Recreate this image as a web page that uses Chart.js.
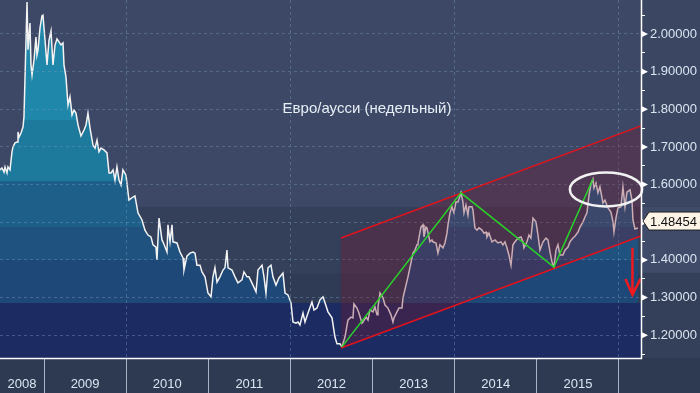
<!DOCTYPE html>
<html lang="ru">
<head>
<meta charset="UTF-8">
<title>Евро/аусси (недельный)</title>
<script src="https://cdn.jsdelivr.net/npm/chart.js"></script>
<style>
  html, body { margin: 0; padding: 0; background: #2e3a52; }
</style>
</head>
<body>
<canvas id="chart" width="700" height="393"></canvas>
<script>
// weekly closes, x = decimal year
const weeks = [
  2008.464, 2008.488, 2008.513, 2008.525, 2008.549, 2008.561, 2008.586, 2008.610, 2008.622, 2008.647, 2008.671, 2008.683, 2008.695, 2008.720,
  2008.744, 2008.756, 2008.793, 2008.805, 2008.829, 2008.841, 2008.854, 2008.878, 2008.902, 2008.914, 2008.927, 2008.951, 2008.975, 2008.987,
  2009.012, 2009.036, 2009.061, 2009.085, 2009.109, 2009.134, 2009.158, 2009.182, 2009.207, 2009.231, 2009.243, 2009.267, 2009.292, 2009.316,
  2009.341, 2009.365, 2009.389, 2009.414, 2009.450, 2009.487, 2009.511, 2009.535, 2009.560, 2009.596, 2009.621, 2009.645, 2009.669, 2009.694,
  2009.730, 2009.767, 2009.791, 2009.815, 2009.840, 2009.864, 2009.888, 2009.913, 2009.937, 2009.961, 2009.998,
  2010.034, 2010.083, 2010.107, 2010.144, 2010.193, 2010.229, 2010.266, 2010.302, 2010.327, 2010.363, 2010.375, 2010.400, 2010.436, 2010.448,
  2010.497, 2010.509, 2010.534, 2010.558, 2010.570, 2010.619, 2010.655, 2010.692, 2010.704, 2010.740, 2010.777, 2010.814, 2010.838, 2010.862,
  2010.899, 2010.923, 2010.960, 2010.996,
  2011.033, 2011.057, 2011.081, 2011.106, 2011.142, 2011.179, 2011.203, 2011.227, 2011.240, 2011.288, 2011.325, 2011.361, 2011.410, 2011.434,
  2011.471, 2011.495, 2011.544, 2011.581, 2011.605, 2011.654, 2011.678, 2011.702, 2011.727, 2011.763, 2011.787, 2011.824, 2011.860, 2011.909,
  2011.934, 2011.970,
  2012.007, 2012.031, 2012.067, 2012.092, 2012.116, 2012.153, 2012.177, 2012.214, 2012.262, 2012.287, 2012.323, 2012.360, 2012.396, 2012.421,
  2012.457, 2012.506, 2012.542, 2012.567, 2012.603, 2012.627, 2012.664, 2012.700, 2012.737, 2012.761, 2012.773, 2012.810, 2012.834, 2012.871,
  2012.883, 2012.920, 2012.944, 2012.968,
  2013.005, 2013.029, 2013.054, 2013.066, 2013.090, 2013.127, 2013.151, 2013.187, 2013.224, 2013.248, 2013.261, 2013.297, 2013.321, 2013.358,
  2013.370, 2013.407, 2013.431, 2013.467, 2013.492, 2013.516, 2013.541, 2013.553, 2013.589, 2013.614, 2013.626, 2013.650, 2013.662, 2013.699,
  2013.723, 2013.735, 2013.772, 2013.796, 2013.820, 2013.857, 2013.881, 2013.906, 2013.918, 2013.942, 2013.966, 2013.991,
  2014.015, 2014.040, 2014.076, 2014.100, 2014.113, 2014.137, 2014.161, 2014.173, 2014.210, 2014.222, 2014.246, 2014.271, 2014.295, 2014.332,
  2014.356, 2014.381, 2014.393, 2014.417, 2014.454, 2014.490, 2014.527, 2014.563, 2014.587, 2014.612, 2014.636, 2014.660, 2014.685, 2014.709,
  2014.734, 2014.770, 2014.807, 2014.831, 2014.843, 2014.880, 2014.904, 2014.928, 2014.953, 2014.989,
  2015.014, 2015.038, 2015.075, 2015.111, 2015.135, 2015.160, 2015.184, 2015.208, 2015.233, 2015.257, 2015.281, 2015.318, 2015.342, 2015.379,
  2015.403, 2015.440, 2015.464, 2015.501, 2015.525, 2015.562, 2015.586, 2015.610, 2015.635, 2015.659, 2015.683, 2015.695, 2015.720, 2015.744,
  2015.768, 2015.805, 2015.829, 2015.866, 2015.902, 2015.927, 2015.939, 2015.963, 2015.987,
  2016.024, 2016.048, 2016.073, 2016.097, 2016.134, 2016.158, 2016.170, 2016.195, 2016.231
];
const eurAud = [
  1.639, 1.644, 1.633, 1.647, 1.631, 1.647, 1.639, 1.687, 1.700, 1.711, 1.713, 1.740, 1.726, 1.737,
  1.753, 1.780, 2.085, 1.958, 2.029, 1.918, 1.891, 1.931, 1.992, 1.944, 1.958, 2.016, 2.048, 2.050,
  1.984, 1.918, 1.984, 2.008, 1.918, 1.971, 1.987, 1.979, 1.971, 1.976, 1.918, 1.886, 1.811, 1.833,
  1.785, 1.798, 1.790, 1.758, 1.729, 1.745, 1.758, 1.790, 1.750, 1.705, 1.697, 1.718, 1.687, 1.697,
  1.692, 1.684, 1.631, 1.631, 1.639, 1.612, 1.647, 1.612, 1.599, 1.639, 1.625,
  1.559, 1.567, 1.570, 1.525, 1.506, 1.479, 1.466, 1.461, 1.440, 1.434, 1.400, 1.511, 1.453, 1.448,
  1.421, 1.493, 1.448, 1.493, 1.448, 1.445, 1.421, 1.405, 1.373, 1.410, 1.418, 1.421, 1.418, 1.386,
  1.386, 1.368, 1.355, 1.312,
  1.302, 1.355, 1.379, 1.341, 1.355, 1.373, 1.379, 1.426, 1.379, 1.373, 1.355, 1.339, 1.347, 1.368,
  1.355, 1.355, 1.333, 1.315, 1.373, 1.386, 1.355, 1.312, 1.379, 1.386, 1.355, 1.333, 1.352, 1.365,
  1.312, 1.307,
  1.286, 1.235, 1.232, 1.235, 1.227, 1.259, 1.235, 1.259, 1.288, 1.267, 1.272, 1.294, 1.302, 1.286,
  1.262, 1.246, 1.195, 1.177, 1.177, 1.169, 1.195, 1.240, 1.248, 1.246, 1.283, 1.272, 1.259, 1.232,
  1.235, 1.248, 1.240, 1.267,
  1.262, 1.275, 1.254, 1.275, 1.312, 1.299, 1.280, 1.272, 1.254, 1.235, 1.246, 1.262, 1.272, 1.272,
  1.299, 1.333, 1.355, 1.392, 1.418, 1.426, 1.440, 1.445, 1.487, 1.493, 1.461, 1.487, 1.485, 1.448,
  1.453, 1.448, 1.445, 1.418, 1.440, 1.432, 1.445, 1.471, 1.493, 1.525, 1.541, 1.525,
  1.554, 1.554, 1.578, 1.554, 1.525, 1.546, 1.519, 1.541, 1.541, 1.533, 1.485, 1.479, 1.485, 1.479,
  1.471, 1.474, 1.461, 1.471, 1.448, 1.453, 1.445, 1.448, 1.440, 1.448, 1.432, 1.413, 1.386, 1.440,
  1.448, 1.458, 1.461, 1.448, 1.432, 1.448, 1.466, 1.458, 1.511, 1.501,
  1.466, 1.426, 1.448, 1.458, 1.453, 1.421, 1.394, 1.381, 1.426, 1.440, 1.413, 1.413, 1.426, 1.434,
  1.448, 1.458, 1.463, 1.474, 1.487, 1.501, 1.514, 1.525, 1.572, 1.602, 1.615, 1.591, 1.604, 1.578,
  1.594, 1.551, 1.559, 1.538, 1.527, 1.501, 1.474, 1.511, 1.538,
  1.541, 1.594, 1.541, 1.580, 1.586, 1.559, 1.506, 1.482, 1.48454
];
const years = [2008, 2009, 2010, 2011, 2012, 2013, 2014, 2015];
const yTicks = [1.15, 1.2, 1.25, 1.3, 1.35, 1.4, 1.45, 1.5, 1.55, 1.6, 1.65, 1.7, 1.75, 1.8, 1.85, 1.9, 1.95, 2.0, 2.05];
const lastQuote = 1.48454;
const chartTitle = 'Евро/аусси (недельный)';

// drawn annotations, in data units
const channelX = [2012.615, 2016.268];
const channelLow = [1.166, 1.4635];
const channelHigh = [1.458, 1.756];
const zigzagWeeks = [2012.627, 2014.076, 2015.208, 2015.683];
const ellipseAt = [2015.842, 1.587];
const ellipseSize = [0.44, 0.045];
const arrowX = 2016.164;
const arrowFrom = 1.4325;
const arrowTo = 1.307;
const titleAt = [2012.932, 1.8];

const X_MIN = 2008.464, X_MAX = 2016.268, Y_MIN = 1.1394, Y_MAX = 2.0903;
const GRID = 'rgba(110,150,180,0.45)';
const TEXT = '#dbe5f1';

// background bands [from, to, colour]
const plotBands = [[Y_MAX, 1.5405, '#3c4865'], [1.5405, 1.3626, '#343f5a'], [1.3626, 1.2855, '#2f3a55'], [1.2855, Y_MIN, '#1c2b62']];
const axisBands = [[Y_MAX, 1.5405, '#3a4662'], [1.5405, 1.3652, '#3f4b68'], [1.3652, Y_MIN, '#343f59']];
const fillSteps = [[Y_MAX, '#1f88aa'], [1.772, '#1e7a9d'], [1.610, '#1e5f8a'], [1.487, '#20527f'], [1.400, '#1d4878'], [1.2855, '#1c2b62']];

function fillGradient(chart) {
  const {ctx, chartArea, scales} = chart;
  if (!chartArea) return 'transparent';
  const h = chartArea.bottom - chartArea.top;
  const stop = v => Math.min(1, Math.max(0, (scales.y.getPixelForValue(v) - chartArea.top) / h));
  const g = ctx.createLinearGradient(0, chartArea.top, 0, chartArea.bottom);
  fillSteps.forEach(([v, c], i) => {
    g.addColorStop(stop(v), c);
    g.addColorStop(i < fillSteps.length - 1 ? stop(fillSteps[i + 1][0]) - 0.0001 : 1, c);
  });
  return g;
}

const isMajor = v => Math.abs(v * 10 - Math.round(v * 10)) < 1e-6;

const decor = {
  id: 'decor',
  beforeDraw(chart) {
    const {ctx, chartArea: a, scales: {y}} = chart;
    ctx.save();
    ctx.fillStyle = '#2e3a52';
    ctx.fillRect(0, 0, chart.width, chart.height);
    axisBands.forEach(([v0, v1, c]) => {
      ctx.fillStyle = c;
      ctx.fillRect(a.right, y.getPixelForValue(v0), chart.width - a.right, y.getPixelForValue(v1) - y.getPixelForValue(v0));
    });
    plotBands.forEach(([v0, v1, c]) => {
      ctx.fillStyle = c;
      ctx.fillRect(a.left, y.getPixelForValue(v0), a.right - a.left, y.getPixelForValue(v1) - y.getPixelForValue(v0));
    });
    ctx.restore();
  },
  afterDraw(chart) {
    const {ctx, chartArea: a, scales: {x, y}} = chart;
    const px = v => x.getPixelForValue(v);
    const py = v => y.getPixelForValue(v);
    ctx.save();

    // channel
    ctx.beginPath();
    ctx.moveTo(px(channelX[0]), py(channelLow[0]));
    ctx.lineTo(px(channelX[1]), py(channelLow[1]));
    ctx.lineTo(px(channelX[1]), py(channelHigh[1]));
    ctx.lineTo(px(channelX[0]), py(channelHigh[0]));
    ctx.closePath();
    ctx.fillStyle = 'rgba(120,25,48,0.32)';
    ctx.fill();
    ctx.strokeStyle = '#e3121c';
    ctx.lineWidth = 1.5;
    [channelLow, channelHigh].forEach(edge => {
      ctx.beginPath();
      ctx.moveTo(px(channelX[0]), py(edge[0]));
      ctx.lineTo(px(channelX[1]), py(edge[1]));
      ctx.stroke();
    });

    // zigzag through turning points
    ctx.strokeStyle = '#27d627';
    ctx.beginPath();
    zigzagWeeks.forEach((w, i) => {
      const v = eurAud[weeks.indexOf(w)];
      if (i === 0) ctx.moveTo(px(w), py(v)); else ctx.lineTo(px(w), py(v));
    });
    ctx.stroke();

    // ellipse
    ctx.strokeStyle = '#f2f2f2';
    ctx.lineWidth = 2.5;
    ctx.beginPath();
    ctx.ellipse(px(ellipseAt[0]), py(ellipseAt[1]),
      px(ellipseAt[0] + ellipseSize[0]) - px(ellipseAt[0]),
      py(ellipseAt[1] - ellipseSize[1]) - py(ellipseAt[1]), 0, 0, Math.PI * 2);
    ctx.stroke();

    // arrow
    const ax = px(arrowX), tip = py(arrowTo);
    ctx.strokeStyle = '#ee1a1f';
    ctx.lineWidth = 2.5;
    ctx.beginPath();
    ctx.moveTo(ax, py(arrowFrom));
    ctx.lineTo(ax, tip);
    ctx.moveTo(ax - 7, tip - 16);
    ctx.lineTo(ax, tip);
    ctx.lineTo(ax + 8, tip - 16);
    ctx.stroke();

    // axis lines
    ctx.strokeStyle = '#ffffff';
    ctx.lineWidth = 1.5;
    ctx.beginPath();
    ctx.moveTo(a.left, a.bottom + 0.5);
    ctx.lineTo(a.right + 0.5, a.bottom + 0.5);
    ctx.lineTo(a.right + 0.5, a.top);
    ctx.stroke();

    // major tick pointers
    ctx.fillStyle = '#ffffff';
    yTicks.filter(isMajor).forEach(v => {
      const yy = py(v);
      ctx.beginPath();
      ctx.moveTo(a.right, yy - 3.5);
      ctx.lineTo(a.right + 7, yy);
      ctx.lineTo(a.right, yy + 3.5);
      ctx.closePath();
      ctx.fill();
    });

    // last price tag
    const ty = py(lastQuote) - 7;
    ctx.beginPath();
    ctx.moveTo(a.right + 2, ty);
    ctx.lineTo(a.right + 8, ty - 9);
    ctx.lineTo(chart.width + 2, ty - 9);
    ctx.lineTo(chart.width + 2, ty + 9);
    ctx.lineTo(a.right + 8, ty + 9);
    ctx.closePath();
    ctx.fillStyle = '#fdf4e8';
    ctx.fill();
    ctx.strokeStyle = '#202020';
    ctx.lineWidth = 1;
    ctx.stroke();
    ctx.fillStyle = '#111111';
    ctx.font = '13px "Liberation Sans"';
    ctx.textBaseline = 'middle';
    ctx.textAlign = 'left';
    ctx.fillText(lastQuote.toFixed(5), a.right + 9, ty + 1);

    // title inside plot
    ctx.fillStyle = '#e8eef5';
    ctx.font = '15px "Liberation Sans"';
    ctx.textAlign = 'center';
    ctx.fillText(chartTitle, px(titleAt[0]), py(titleAt[1]));
    ctx.restore();
  }
};

Chart.defaults.font.family = '"Liberation Sans", Arial, sans-serif';
Chart.defaults.font.size = 13;
Chart.defaults.color = TEXT;

// label ticks sit mid-year (2008 centred in its visible part), separators on year starts
const xTicks = [];
years.forEach(yr => {
  xTicks.push((Math.max(yr, X_MIN) + yr + 1) / 2);
  xTicks.push(yr + 1);
});

new Chart(document.getElementById('chart'), {
  type: 'line',
  data: {
    datasets: [{
      data: weeks.map((w, i) => ({x: w, y: eurAud[i]})),
      borderColor: '#f3f3f3',
      borderWidth: 1.5,
      pointRadius: 0,
      tension: 0,
      fill: 'start',
      backgroundColor: c => fillGradient(c.chart)
    }]
  },
  options: {
    responsive: false,
    animation: false,
    devicePixelRatio: 1,
    layout: { padding: 0 },
    plugins: { legend: { display: false }, tooltip: { enabled: false } },
    scales: {
      x: {
        type: 'linear',
        min: X_MIN,
        max: X_MAX,
        afterBuildTicks: s => { s.ticks = xTicks.map(v => ({value: v})); },
        afterFit: s => { s.height = 35; s.paddingLeft = 0; s.paddingRight = 0; },
        ticks: {
          autoSkip: false, maxRotation: 0, minRotation: 0, padding: -16, color: TEXT,
          callback: v => Number.isInteger(v) ? '' : String(Math.floor(v))
        },
        grid: {
          z: 1,
          tickLength: 35,
          color: c => (c.tick && Number.isInteger(c.tick.value) && c.tick.value % 2 === 0) ? GRID : 'transparent',
          tickColor: c => (c.tick && Number.isInteger(c.tick.value)) ? '#a9b3c3' : 'transparent'
        },
        border: { display: false, dash: [3, 3] }
      },
      y: {
        type: 'linear',
        position: 'right',
        min: Y_MIN,
        max: Y_MAX,
        afterBuildTicks: s => { s.ticks = yTicks.map(v => ({value: v})); },
        afterFit: s => { s.width = 59; s.paddingTop = 0; s.paddingBottom = 0; },
        ticks: {
          padding: 5, color: TEXT, autoSkip: false,
          callback: v => isMajor(v) ? v.toFixed(5) : ''
        },
        grid: {
          z: 1,
          tickLength: 4,
          color: c => (c.tick && isMajor(c.tick.value)) ? GRID : 'transparent',
          tickColor: '#ffffff'
        },
        border: { display: false, dash: [3, 3] }
      }
    }
  },
  plugins: [decor]
});
</script>
</body>
</html>
